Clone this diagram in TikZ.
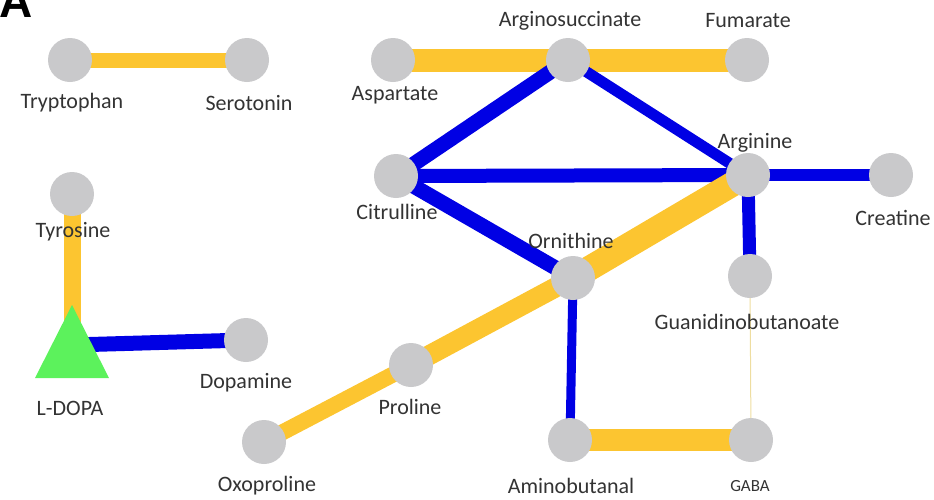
\documentclass[tikz,border=0pt]{standalone}
\usepackage{fontspec}
\setmainfont{Carlito}
\newfontfamily\panelfont{Liberation Sans}
\usetikzlibrary{backgrounds}
\definecolor{edgeyellow}{HTML}{FCC530}
\definecolor{edgeblue}{HTML}{0000E4}
\definecolor{nodegray}{HTML}{C9C9CB}
\definecolor{trigreen}{HTML}{5CF25C}
\definecolor{thinline}{HTML}{EEDDA0}
\definecolor{txt}{HTML}{333333}
\begin{document}
\begin{tikzpicture}[x=1pt,y=-1pt,
  met/.style={circle, fill=nodegray, minimum size=44pt, inner sep=0pt},
  lbl/.style={text=txt, font=\fontsize{22}{22}\selectfont, inner sep=0pt},
  smalllbl/.style={text=txt, font=\fontsize{17}{17}\selectfont, inner sep=0pt},
  yel/.style={draw=edgeyellow, line width=#1},
  blu/.style={draw=edgeblue, line width=#1}]
\useasboundingbox (0,0) rectangle (934,499);

% panel letter
\node[anchor=base west, inner sep=0pt, font=\panelfont\bfseries\fontsize{46}{46}\selectfont] (panel) at (-1,17) {A};

% metabolite nodes
\node[met] (trp) at (70,60) {};
\node[met] (ser) at (247,60) {};
\node[met] (asp) at (393,60) {};
\node[met] (asuc) at (568,60) {};
\node[met] (fum) at (747,60) {};
\node[met] (cit) at (396,176) {};
\node[met] (arg) at (748,175) {};
\node[met] (cre) at (891,175) {};
\node[met] (orn) at (573,278) {};
\node[met] (gua) at (750,276) {};
\node[met] (tyr) at (72,194) {};
\node[met] (dop) at (246,340) {};
\node[met] (pro) at (411,365) {};
\node[met] (oxo) at (264,442) {};
\node[met] (amb) at (570,440) {};
\node[met] (gaba) at (751,440) {};

% L-DOPA triangle
\coordinate (ldopa) at (72,345);
\fill[trigreen] (35,378) -- (72,305) -- (109,378) -- cycle;

% labels
\node[lbl] (trpL) at (72,103) {Tryptophan};
\node[lbl] (serL) at (249,103) {Serotonin};
\node[lbl] (aspL) at (395,95) {Aspartate};
\node[lbl] (asucL) at (570,21) {Arginosuccinate};
\node[lbl] (fumL) at (748,21) {Fumarate};
\node[lbl] (citL) at (397,212) {Citrulline};
\node[lbl] (argL) at (755,143) {Arginine};
\node[lbl] (creL) at (893,218) {Creatine};
\node[lbl] (ornL) at (571,241) {Ornithine};
\node[lbl] (guaL) at (747,322) {Guanidinobutanoate};
\node[lbl] (tyrL) at (73,232) {Tyrosine};
\node[lbl] (ldopaL) at (70,408) {L-DOPA};
\node[lbl] (dopL) at (246,383) {Dopamine};
\node[lbl] (proL) at (410,407) {Proline};
\node[lbl] (oxoL) at (267,486) {Oxoproline};
\node[lbl] (ambL) at (571,486) {Aminobutanal};
\node[smalllbl] (gabaL) at (750,486) {GABA};

% connectors
\begin{scope}[on background layer]
  \draw[yel=15pt] (trp.center) -- (ser.center);
  \draw[yel=23pt] (asp.center) -- (asuc.center);
  \draw[yel=23pt] (asuc.center) -- (fum.center);
  \draw[blu=15pt] (asuc.center) -- (cit.center);
  \draw[blu=11pt] (asuc.center) -- (arg.center);
  \draw[blu=14pt] (cit.center) -- (arg.center);
  \draw[blu=15pt] (cit.center) -- (orn.center);
  \draw[blu=12pt] (arg.center) -- (cre.center);
  \draw[blu=13pt] (arg.center) -- (gua.center);
  \draw[yel=25pt] (orn.center) -- (arg.center);
  \draw[yel=20pt] (orn.center) -- (pro.center);
  \draw[yel=16pt] (pro.center) -- (oxo.center);
  \draw[blu=9pt] (orn.center) -- (amb.center);
  \draw[yel=22pt] (amb.center) -- (gaba.center);
  \draw[draw=thinline, line width=1pt] (gua.center) -- (gaba.center);
  \draw[yel=17pt] (tyr.center) -- (ldopa);
  \draw[blu=15pt] (ldopa) -- (dop.center);
\end{scope}
\end{tikzpicture}
\end{document}
